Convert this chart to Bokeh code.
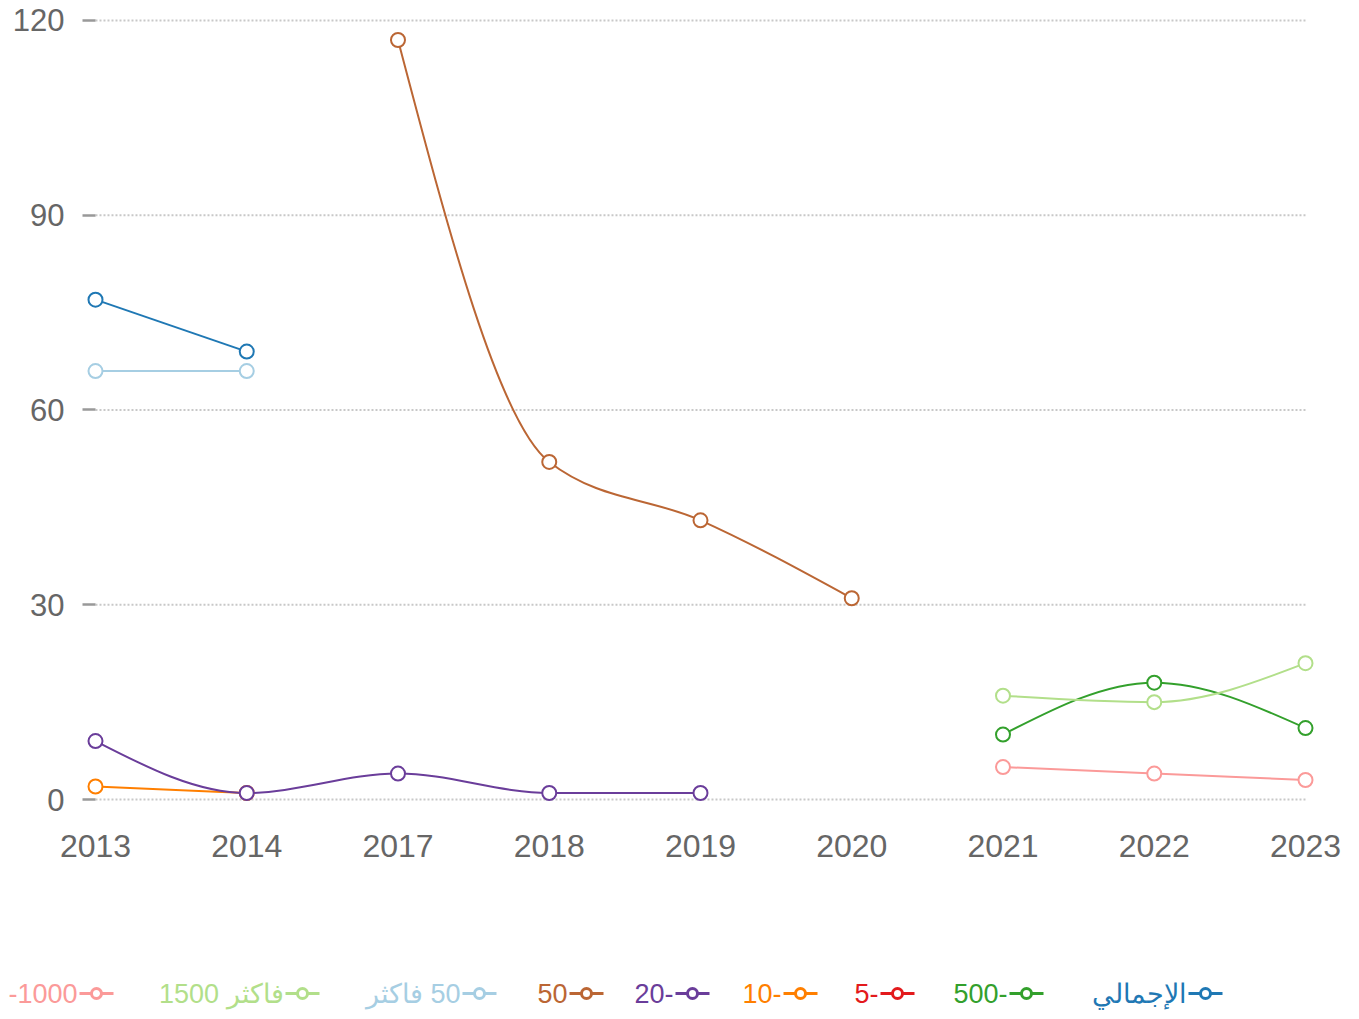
import math
from bokeh.plotting import figure
from bokeh.models import Range1d, FixedTicker, ColumnDataSource
from bokeh.core.properties import value
from bokeh.embed import file_html
from bokeh.resources import INLINE

# ---------------- data ----------------
years = ["2013", "2014", "2017", "2018", "2019", "2020", "2021", "2022", "2023"]
y_ticks = [0, 30, 60, 90, 120]

total      = [77, 69, None, None, None, None, None, None, None]
s500       = [None, None, None, None, None, None, 10, 18, 11]
s5         = [None, None, None, None, None, None, None, None, None]
s10        = [2, 1, None, None, None, None, None, None, None]
s20        = [9, 1, 4, 1, 1, None, None, None, None]
s50        = [None, None, 117, 52, 43, 31, None, None, None]
s50_plus   = [66, 66, None, None, None, None, None, None, None]
s1500_plus = [None, None, None, None, None, None, 16, 15, 21]
s500_1000  = [None, None, None, None, None, None, 5, 4, 3]

series_labels = ["الإجمالي", "500-", "5-", "10-", "20-", "50",
                 "\u200f50 فاكثر", "1500 فاكثر", "-1000"]
series_values = [total, s500, s5, s10, s20, s50, s50_plus, s1500_plus, s500_1000]
series_colors = ["#1f78b4", "#33a02c", "#e31a1c", "#ff7f00", "#6a3d9a",
                 "#bb6634", "#a6cee3", "#b2df8a", "#fb9a99"]

# ---------------- helpers ----------------
def sign(v):
    return (v > 0) - (v < 0)

def monotone_beziers(xs, ys):
    """d3.curveMonotoneX as cubic bezier segments."""
    n = len(xs)
    segs = []
    if n < 2:
        return segs
    s = [(ys[i + 1] - ys[i]) / (xs[i + 1] - xs[i]) for i in range(n - 1)]
    if n == 2:
        t = [s[0], s[0]]
    else:
        t = [0.0] * n
        for i in range(1, n - 1):
            h0 = xs[i] - xs[i - 1]
            h1 = xs[i + 1] - xs[i]
            s0, s1 = s[i - 1], s[i]
            p = (s0 * h1 + s1 * h0) / (h0 + h1)
            t[i] = (sign(s0) + sign(s1)) * min(abs(s0), abs(s1), 0.5 * abs(p))
        t[0] = (3 * s[0] - t[1]) / 2
        t[-1] = (3 * s[-1] - t[-2]) / 2
    for i in range(n - 1):
        x0, y0, x1, y1 = xs[i], ys[i], xs[i + 1], ys[i + 1]
        dx = (x1 - x0) / 3
        segs.append((x0, y0, x1, y1, x0 + dx, y0 + dx * t[i], x1 - dx, y1 - dx * t[i + 1]))
    return segs

def runs(vals):
    out, cur = [], []
    for i, v in enumerate(vals):
        if v is None:
            if cur:
                out.append(cur)
            cur = []
        else:
            cur.append((i, v))
    if cur:
        out.append(cur)
    return out

# ---------------- main chart ----------------
W = 1343
H = 940
xpad = 0.0595
p = figure(width=W, height=H,
           x_range=Range1d(-xpad, len(years) - 1 + xpad),
           y_range=Range1d(-1.386, 121.54),
           output_backend="svg", toolbar_location=None,
           min_border_left=86, min_border_right=W - 1314,
           min_border_top=10, min_border_bottom=H - 808)
p.outline_line_color = None
p.xgrid.visible = False
p.ygrid.visible = False
p.background_fill_color = "white"
p.border_fill_color = "white"

# grid lines (dotted) spanning the category extent
p.segment(x0=[0] * len(y_ticks), x1=[len(years) - 1] * len(y_ticks),
          y0=y_ticks, y1=y_ticks, line_color="#c8c8c8",
          line_width=2, line_dash="2 2", level="underlay")

# y axis
ya = p.yaxis[0]
ya.ticker = FixedTicker(ticks=y_ticks)
ya.axis_line_color = None
ya.major_tick_in = 9
ya.major_tick_out = 4
ya.major_tick_line_color = "#999999"
ya.major_tick_line_width = 2.5
ya.minor_tick_line_color = None
ya.major_label_standoff = 18
ya.major_label_text_font = "Liberation Sans"
ya.major_label_text_font_size = "31px"
ya.major_label_text_color = "#666666"

# x axis
xa = p.xaxis[0]
xa.ticker = FixedTicker(ticks=list(range(len(years))))
xa.major_label_overrides = {i: y for i, y in enumerate(years)}
xa.axis_line_color = None
xa.major_tick_in = 0
xa.major_tick_out = 0
xa.minor_tick_line_color = None
xa.major_label_standoff = 26
xa.major_label_text_font = "Liberation Sans"
xa.major_label_text_font_size = "32px"
xa.major_label_text_color = "#666666"

for vals, col in zip(series_values, series_colors):
    for run in runs(vals):
        xs = [r[0] for r in run]
        ys = [r[1] for r in run]
        segs = monotone_beziers(xs, ys)
        if segs:
            src = ColumnDataSource(dict(
                x0=[s_[0] for s_ in segs], y0=[s_[1] for s_ in segs],
                x1=[s_[2] for s_ in segs], y1=[s_[3] for s_ in segs],
                cx0=[s_[4] for s_ in segs], cy0=[s_[5] for s_ in segs],
                cx1=[s_[6] for s_ in segs], cy1=[s_[7] for s_ in segs]))
            p.bezier(x0="x0", y0="y0", x1="x1", y1="y1",
                     cx0="cx0", cy0="cy0", cx1="cx1", cy1="cy1",
                     source=src, line_color=col, line_width=2)
        p.scatter(xs, ys, marker="circle", size=14, fill_color="white",
                  line_color=col, line_width=2)

# ---------------- legend (RTL style: symbol to the right of label) ----------------
LH = 75
lg = figure(width=W, height=LH, x_range=Range1d(0, W),
            y_range=Range1d(H + LH, H),
            output_backend="svg", toolbar_location=None,
            x_axis_type=None, y_axis_type=None,
            min_border=0, min_border_left=0, min_border_right=0,
            min_border_top=0, min_border_bottom=0)
lg.outline_line_color = None
lg.xgrid.visible = False
lg.ygrid.visible = False

legend_right = [1186, 1007, 878, 781, 673, 567, 460, 283, 77]
ly = 993
lsrc = ColumnDataSource(dict(
    x=legend_right, y=[ly] * len(legend_right), text=series_labels,
    color=series_colors,
    lx0=[r + 2 for r in legend_right], lx1=[r + 36 for r in legend_right],
    cx=[r + 19 for r in legend_right]))
lg.text(x="x", y="y", text="text", text_color="color", source=lsrc,
        text_align="right", text_baseline="middle",
        text_font=value("Liberation Sans"), text_font_size=value("27px"))
lg.segment(x0="lx0", x1="lx1", y0="y", y1="y", line_color="color",
           line_width=3, source=lsrc)
lg.scatter(x="cx", y="y", marker="circle", size=10, fill_color="white",
           line_color="color", line_width=3, source=lsrc)

open("out.html", "w").write(file_html([p, lg], INLINE))
